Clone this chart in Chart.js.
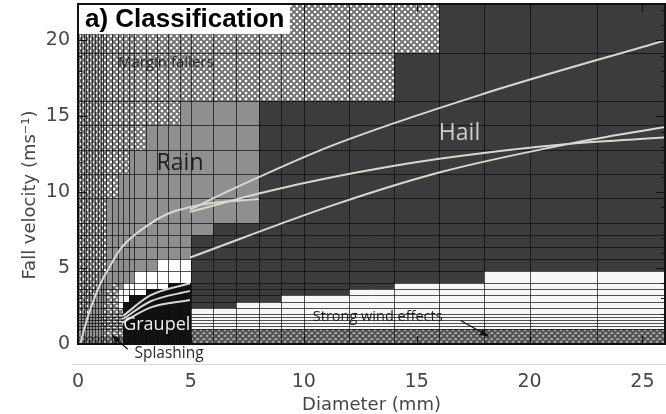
<!DOCTYPE html>
<html>
<head>
<meta charset="utf-8">
<title>a) Classification</title>
<script src="https://cdn.jsdelivr.net/npm/chart.js@4.4.1/dist/chart.umd.min.js"></script>
<style>
html,body{margin:0;padding:0;background:#ffffff;overflow:hidden;}
#wrap{position:relative;width:666px;height:414px;}
</style>
</head>
<body>
<div id="wrap"><canvas id="chart"></canvas></div>
<script>
// ---------------- data ----------------
// Diameter class edges (mm) and fall-velocity class edges (m/s)
const diameterEdges = [0,0.125,0.25,0.375,0.5,0.625,0.75,0.875,1.0,1.125,1.25,
  1.5,1.75,2.0,2.25,2.5,3,3.5,4,4.5,5,
  6,7,8,9,10,12,14,16,18,20,
  23,26];
const velocityEdges = [0,0.1,0.2,0.3,0.4,0.5,0.6,0.7,0.8,0.9,1.0,
  1.2,1.4,1.6,1.8,2.0,2.4,2.8,3.2,3.6,4.0,
  4.8,5.6,6.4,7.2,8.0,9.6,11.2,12.8,14.4,16.0,
  19.2,22.4];
const xTickValues = [0, 5, 10, 15, 20, 25];
const yTickValues = [0, 5, 10, 15, 20];

// Class of every cell. First string = highest velocity class (19.2–22.4 m/s),
// last string = lowest (0–0.1 m/s). Characters follow the diameter classes.
// M margin fallers, R rain, H hail, G graupel, W unclassified,
// S strong wind effects, X wind/splash band, P splashing
const cellClasses = [
  'MMMMMMMMMM MMMMMMMMMM MMMMMMMMHH HH',
  'MMMMMMMMMM MMMMMMMMMM MMMMMMMHHH HH',
  'MMMMMMMMMM MMMMMMMMMR RRRHHHHHHH HH',
  'MMMMMMMMMM MMMMMMRRRR RRRHHHHHHH HH',
  'MMMMMMMMMM MMMMRRRRRR RRRHHHHHHH HH',
  'MMMMMMMMMM MMRRRRRRRR RRRHHHHHHH HH',
  'MMMMMMMMMM RRRRRRRRRR RRRHHHHHHH HH',
  'MMMMMMMMMM RRRRRRRRRR RHHHHHHHHH HH',
  'MMMMMMMMMM RRRRRRRRRR HHHHHHHHHH HH',
  'MMMMMMMMMM RRRRRRRRRR HHHHHHHHHH HH',
  'MMMMMMMMMM RRRRRRRWWW HHHHHHHHHH HH',
  'MMMMMMMRRR RRRRRWWWWW HHHHHHHHHS SS',
  'MMMMMMMRRR RPRWWWWWGG HHHHHHHSSS SS',
  'MMMMMMMRRR PPWWWWGGGG HHHHHHSSSS SS',
  'MMMMRRRRRR PPWWGGGGGG HHHHSSSSSS SS',
  'MMMMRRRRRP PPWGGGGGGG HHSSSSSSSS SS',
  'MMMMRRRRRP PPPGGGGGGG SSSSSSSSSS SS',
  'RRRRRRRRPP PPPGGGGGGG SSSSSSSSSS SS',
  'RRRRRRRRPP PPPGGGGGGG SSSSSSSSSS SS',
  'RRRRRRRRPP PPPGGGGGGG SSSSSSSSSS SS',
  'RRRRRRRRPP PPPGGGGGGG SSSSSSSSSS SS',
  'RRRRRRRRPP PPPGGGGGGG SSSSSSSSSS SS',
  'RRRRRRRRRP PPPGGGGGGG XXXXXXXXXX XX',
  'RRRRRRRRRP PPPGGGGGGG XXXXXXXXXX XX',
  'RRRRRRRRRP PPPGGGGGGG XXXXXXXXXX XX',
  'RRRRRRRRRP PPPGGGGGGG XXXXXXXXXX XX',
  'RRRRRRRRRP PPPGGGGGGG XXXXXXXXXX XX',
  'XXXXXXXXXX XXXGGGGGGG XXXXXXXXXX XX',
  'XXXXXXXXXX XXXGGGGGGG XXXXXXXXXX XX',
  'XXXXXXXXXX XXXGGGGGGG XXXXXXXXXX XX',
  'XXXXXXXXXX XXXGGGGGGG XXXXXXXXXX XX',
  'XXXXXXXXXX XXXGGGGGGG XXXXXXXXXX XX'
];

// Fall-speed relations
const rainD = [0.1, 0.3, 0.5, 0.75, 1.0, 1.33, 1.9, 2.97, 4.0, 4.9, 6.0, 8.0];
const rainV = [0.0, 1.1, 2.1, 3.1, 4.0, 4.9, 6.3, 7.7, 8.6, 9.0, 9.3, 9.55];
const hailAD = [4.96, 6.7, 11.3, 18, 26];
const hailAV = [8.85, 10.1, 13.1, 16.5, 20.0];
const hailBD = [4.96, 8.1, 11.3, 16, 21.8, 26];
const hailBV = [8.7, 9.95, 11.0, 12.2, 13.2, 13.6];
const hailCD = [4.96, 11.3, 16, 21.8, 26];
const hailCV = [5.7, 9.15, 11.3, 13.2, 14.3];
const graupelAD = [2.0, 3.2, 4.96];
const graupelAV = [1.85, 3.2, 4.0];
const graupelBD = [2.0, 3.2, 4.96];
const graupelBV = [1.65, 2.8, 3.5];
const graupelCD = [1.95, 3.2, 4.96];
const graupelCV = [1.4, 2.4, 2.9];

// ---------------- drawing ----------------
function pts(ds, vs) { return ds.map((d, i) => ({x: d, y: vs[i]})); }

function lattice(ctx, bg, fg, size, lw) {
  const t = document.createElement('canvas');
  t.width = size; t.height = size;
  const g = t.getContext('2d');
  g.fillStyle = bg; g.fillRect(0, 0, size, size);
  g.strokeStyle = fg; g.lineWidth = lw;
  g.beginPath();
  for (const o of [-size, 0, size]) {
    g.moveTo(o, 0); g.lineTo(o + size, size);
    g.moveTo(o + size, 0); g.lineTo(o, size);
  }
  g.stroke();
  return ctx.createPattern(t, 'repeat');
}

function arrow(ctx, x0, y0, x1, y1) {
  ctx.beginPath(); ctx.moveTo(x0, y0); ctx.lineTo(x1, y1); ctx.stroke();
  const a = Math.atan2(y1 - y0, x1 - x0), L = 9, W = 3.5;
  ctx.beginPath();
  ctx.moveTo(x1, y1);
  ctx.lineTo(x1 - L * Math.cos(a) + W * Math.sin(a), y1 - L * Math.sin(a) - W * Math.cos(a));
  ctx.lineTo(x1 - L * Math.cos(a) - W * Math.sin(a), y1 - L * Math.sin(a) + W * Math.cos(a));
  ctx.closePath(); ctx.fill();
}

const cellPlugin = {
  id: 'cells',
  beforeDatasetsDraw(chart) {
    const {ctx, chartArea: a, scales: {x: xs, y: ys}} = chart;
    const fills = {
      M: lattice(ctx, '#ffffff', '#6e6e6e', 6, 1.9),
      X: lattice(ctx, '#a2a2a2', '#4a4a4a', 6, 1.6),
      P: lattice(ctx, '#f0f0f0', '#767676', 6, 2.1),
      R: '#8f8f8f', H: '#3c3c3c', G: '#121212', W: '#ffffff', S: '#f7f7f7'
    };
    ctx.save();
    const n = cellClasses.length;
    cellClasses.forEach((row, ri) => {
      const codes = row.replace(/\s+/g, '');
      const vi = n - 1 - ri;
      const yT = Math.round(ys.getPixelForValue(velocityEdges[vi + 1]));
      const yB = Math.round(ys.getPixelForValue(velocityEdges[vi]));
      for (let ci = 0; ci < codes.length; ci++) {
        const x0 = Math.round(xs.getPixelForValue(diameterEdges[ci]));
        const x1 = Math.round(xs.getPixelForValue(diameterEdges[ci + 1]));
        ctx.fillStyle = fills[codes[ci]];
        ctx.fillRect(x0, yT, x1 - x0, yB - yT);
      }
    });
    // class grid
    ctx.strokeStyle = 'rgba(10,10,10,0.7)';
    ctx.lineWidth = 1;
    ctx.beginPath();
    diameterEdges.forEach(d => {
      const x = Math.round(xs.getPixelForValue(d)) + 0.5;
      ctx.moveTo(x, a.top); ctx.lineTo(x, a.bottom);
    });
    velocityEdges.forEach(v => {
      if (v > 0 && v < 1) return;
      const y = Math.round(ys.getPixelForValue(v)) + 0.5;
      ctx.moveTo(a.left, y); ctx.lineTo(a.right, y);
    });
    ctx.stroke();
    ctx.restore();
  },
  afterDatasetsDraw(chart) {
    const {ctx, chartArea: a, scales: {x: xs, y: ys}} = chart;
    const px = d => xs.getPixelForValue(d), py = v => ys.getPixelForValue(v);
    ctx.save();
    // frame
    ctx.strokeStyle = '#111'; ctx.lineWidth = 2;
    ctx.strokeRect(a.left, a.top, a.right - a.left, a.bottom - a.top);
    // ticks
    ctx.lineWidth = 1.2; ctx.beginPath();
    for (let v = 1; v < 22.4; v++) {
      const y = Math.round(py(v)) + 0.5, L = (v % 5 === 0) ? 9 : 4;
      ctx.moveTo(a.left, y); ctx.lineTo(a.left + L, y);
      ctx.moveTo(a.right, y); ctx.lineTo(a.right - L, y);
    }
    xTickValues.forEach(d => {
      if (d === 0) return;
      const x = Math.round(px(d)) + 0.5;
      ctx.moveTo(x, a.bottom); ctx.lineTo(x, a.bottom - 8);
      ctx.moveTo(x, a.top); ctx.lineTo(x, a.top + 8);
    });
    ctx.stroke();

    // panel title box
    ctx.fillStyle = '#ffffff';
    ctx.fillRect(a.left + 1, a.top + 1, 211, 29);
    ctx.fillStyle = '#000';
    ctx.font = 'bold 26px "Liberation Sans", Arial, sans-serif';
    ctx.textAlign = 'left'; ctx.textBaseline = 'middle';
    ctx.fillText('a) Classification', a.left + 7, a.top + 16);

    // region labels
    const lab = (t, d, v, font, color, align) => {
      ctx.font = font; ctx.fillStyle = color; ctx.textAlign = align; ctx.textBaseline = 'middle';
      ctx.fillText(t, px(d), py(v));
    };
    lab('Margin fallers', 1.77, 18.5, '15px "Open Sans", sans-serif', '#262626', 'left');
    lab('Rain', 4.52, 11.9, '23px "Open Sans", sans-serif', '#1e1e1e', 'center');
    lab('Hail', 16.9, 13.9, '23px "Open Sans", sans-serif', '#cdcdcd', 'center');
    lab('Graupel', 2.0, 1.25, '18px "Open Sans", sans-serif', '#f0f0f0', 'left');
    lab('Strong wind effects', 10.4, 1.78, '14.5px "Open Sans", sans-serif', '#1e1e1e', 'left');
    lab('Splashing', 2.5, -0.62, '15.5px "Open Sans", sans-serif', '#2a2a2a', 'left');

    // arrows
    ctx.strokeStyle = '#111'; ctx.fillStyle = '#111'; ctx.lineWidth = 1.2;
    arrow(ctx, px(2.2), py(-0.35), px(1.5), py(0.6));
    arrow(ctx, px(16.95), py(1.55), px(18.2), py(0.5));

    // separator above diameter axis
    ctx.strokeStyle = '#dcdcdc'; ctx.lineWidth = 1;
    ctx.beginPath(); ctx.moveTo(72, a.bottom + 20.5); ctx.lineTo(666, a.bottom + 20.5); ctx.stroke();

    // y axis title
    ctx.translate(30, 195);
    ctx.rotate(-Math.PI / 2);
    ctx.font = '18px "DejaVu Sans", sans-serif';
    ctx.fillStyle = '#474747'; ctx.textAlign = 'center'; ctx.textBaseline = 'middle';
    ctx.fillText('Fall velocity (ms\u207B\u00B9)', 0, 0);
    ctx.restore();
  }
};

const lineStyle = {showLine: true, borderColor: '#d7d9d1', borderWidth: 2, pointRadius: 0, cubicInterpolationMode: 'monotone'};

new Chart(document.getElementById('chart'), {
  type: 'scatter',
  data: {
    datasets: [
      Object.assign({label: 'Rain', data: pts(rainD, rainV)}, lineStyle),
      Object.assign({label: 'Hail 1', data: pts(hailAD, hailAV)}, lineStyle),
      Object.assign({label: 'Hail 2', data: pts(hailBD, hailBV)}, lineStyle),
      Object.assign({label: 'Hail 3', data: pts(hailCD, hailCV)}, lineStyle),
      Object.assign({label: 'Graupel 1', data: pts(graupelAD, graupelAV)}, lineStyle),
      Object.assign({label: 'Graupel 2', data: pts(graupelBD, graupelBV)}, lineStyle),
      Object.assign({label: 'Graupel 3', data: pts(graupelCD, graupelCV)}, lineStyle)
    ]
  },
  options: {
    responsive: true,
    maintainAspectRatio: false,
    animation: false,
    devicePixelRatio: 1,
    layout: {padding: {top: 4, right: 1, left: 0, bottom: 0}},
    plugins: {legend: {display: false}, tooltip: {enabled: false}},
    scales: {
      x: {
        type: 'linear', min: 0, max: 26,
        afterBuildTicks: s => { s.ticks = xTickValues.map(v => ({value: v})); },
        afterFit: s => { s.height = 70; s.paddingLeft = 0; s.paddingRight = 0; },
        grid: {display: false, drawTicks: false},
        border: {display: false},
        ticks: {padding: 27, font: {family: '"DejaVu Sans", sans-serif', size: 19}, color: '#474747', maxRotation: 0},
        title: {display: true, text: 'Diameter (mm)', font: {family: '"DejaVu Sans", sans-serif', size: 18, lineHeight: 1}, color: '#474747', padding: {top: 0, bottom: 0}}
      },
      y: {
        type: 'linear', min: 0, max: 22.4,
        afterBuildTicks: s => { s.ticks = yTickValues.map(v => ({value: v})); },
        afterFit: s => { s.width = 78; s.paddingTop = 0; s.paddingBottom = 0; },
        grid: {display: false, drawTicks: false},
        border: {display: false},
        ticks: {padding: 8, font: {family: '"DejaVu Sans", sans-serif', size: 19}, color: '#474747'}
      }
    }
  },
  plugins: [cellPlugin]
});
</script>
</body>
</html>
